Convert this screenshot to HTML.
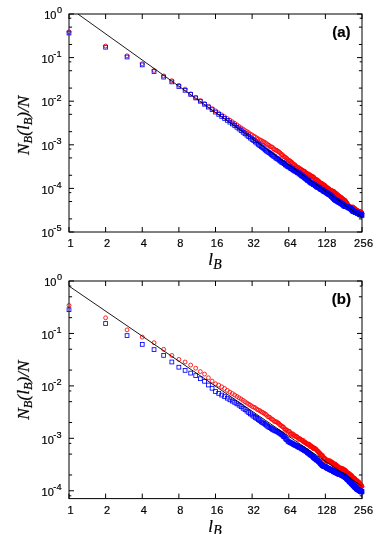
<!DOCTYPE html><html><head><meta charset="utf-8"><style>html,body{margin:0;padding:0;background:#fff}svg{display:block}.r{stroke:#f00}.b{stroke:#00f}text{font-family:"Liberation Sans",sans-serif;fill:#000;stroke:#000;stroke-width:0.2px}.s{font-family:"Liberation Serif",serif;font-style:italic}</style></head><body>
<svg width="382" height="534" viewBox="0 0 382 534">
<defs><filter id="g" x="0" y="0" width="100%" height="100%" filterUnits="userSpaceOnUse" color-interpolation-filters="sRGB"><feOffset dx="0" dy="0"/></filter></defs>
<rect width="382" height="534" fill="#fff"/>
<g filter="url(#g)">
<path d="M69.00 232.0v-5M69.00 14.0v5M105.62 232.0v-5M105.62 14.0v5M142.25 232.0v-5M142.25 14.0v5M178.88 232.0v-5M178.88 14.0v5M215.50 232.0v-5M215.50 14.0v5M252.12 232.0v-5M252.12 14.0v5M288.75 232.0v-5M288.75 14.0v5M325.38 232.0v-5M325.38 14.0v5M362.00 232.0v-5M362.00 14.0v5M69.0 14.00h5M362.0 14.00h-5M69.0 57.60h5M362.0 57.60h-5M69.0 101.20h5M362.0 101.20h-5M69.0 144.80h5M362.0 144.80h-5M69.0 188.40h5M362.0 188.40h-5M69.0 232.00h5M362.0 232.00h-5M69.0 44.48h3.1M362.0 44.48h-3.1M69.0 27.12h3.1M362.0 27.12h-3.1M69.0 88.08h3.1M362.0 88.08h-3.1M69.0 70.72h3.1M362.0 70.72h-3.1M69.0 131.68h3.1M362.0 131.68h-3.1M69.0 114.32h3.1M362.0 114.32h-3.1M69.0 175.28h3.1M362.0 175.28h-3.1M69.0 157.92h3.1M362.0 157.92h-3.1M69.0 218.88h3.1M362.0 218.88h-3.1M69.0 201.52h3.1M362.0 201.52h-3.1M69.0 18.23h2.3M362.0 18.23h-2.3M69.0 61.83h2.3M362.0 61.83h-2.3M69.0 105.43h2.3M362.0 105.43h-2.3M69.0 149.03h2.3M362.0 149.03h-2.3M69.0 192.63h2.3M362.0 192.63h-2.3" stroke="#000" stroke-width="1" fill="none"/>
<rect x="69.0" y="14.0" width="293.0" height="218.0" fill="none" stroke="#000" stroke-width="1.0"/>
<g fill="none" stroke-width="0.85">
<circle class="r" cx="69.00" cy="31.80" r="1.95"/><circle class="r" cx="105.62" cy="46.00" r="1.95"/><circle class="r" cx="127.05" cy="55.80" r="1.95"/><circle class="r" cx="142.25" cy="63.70" r="1.95"/><circle class="r" cx="154.04" cy="70.40" r="1.95"/><circle class="r" cx="163.67" cy="75.90" r="1.95"/><circle class="r" cx="171.82" cy="80.70" r="1.95"/><circle class="r" cx="178.88" cy="85.30" r="1.95"/><circle class="r" cx="185.10" cy="89.10" r="1.95"/><circle class="r" cx="190.67" cy="93.84" r="1.95"/><circle class="r" cx="195.70" cy="97.38" r="1.95"/><circle class="r" cx="200.30" cy="100.60" r="1.95"/><circle class="r" cx="204.53" cy="103.57" r="1.95"/><circle class="r" cx="208.44" cy="106.19" r="1.95"/><circle class="r" cx="212.09" cy="108.62" r="1.95"/><circle class="r" cx="215.50" cy="110.88" r="1.95"/><circle class="r" cx="218.70" cy="112.95" r="1.95"/><circle class="r" cx="221.72" cy="114.90" r="1.95"/><circle class="r" cx="224.58" cy="116.75" r="1.95"/><circle class="r" cx="227.29" cy="118.50" r="1.95"/><circle class="r" cx="229.87" cy="120.17" r="1.95"/><circle class="r" cx="232.33" cy="121.78" r="1.95"/><circle class="r" cx="234.68" cy="123.38" r="1.95"/><circle class="r" cx="236.92" cy="124.92" r="1.95"/><circle class="r" cx="239.08" cy="126.46" r="1.95"/><circle class="r" cx="241.15" cy="127.93" r="1.95"/><circle class="r" cx="243.15" cy="129.20" r="1.95"/><circle class="r" cx="245.07" cy="130.59" r="1.95"/><circle class="r" cx="246.92" cy="131.61" r="1.95"/><circle class="r" cx="248.71" cy="132.81" r="1.95"/><circle class="r" cx="250.45" cy="134.07" r="1.95"/><circle class="r" cx="252.12" cy="135.04" r="1.95"/><circle class="r" cx="253.75" cy="136.26" r="1.95"/><circle class="r" cx="255.33" cy="136.91" r="1.95"/><circle class="r" cx="256.86" cy="138.09" r="1.95"/><circle class="r" cx="258.35" cy="138.95" r="1.95"/><circle class="r" cx="259.80" cy="139.89" r="1.95"/><circle class="r" cx="261.21" cy="140.32" r="1.95"/><circle class="r" cx="262.58" cy="141.56" r="1.95"/><circle class="r" cx="263.92" cy="141.88" r="1.95"/><circle class="r" cx="265.22" cy="142.68" r="1.95"/><circle class="r" cx="266.49" cy="143.73" r="1.95"/><circle class="r" cx="267.74" cy="144.66" r="1.95"/><circle class="r" cx="268.95" cy="145.27" r="1.95"/><circle class="r" cx="270.14" cy="146.55" r="1.95"/><circle class="r" cx="271.30" cy="146.77" r="1.95"/><circle class="r" cx="272.44" cy="147.33" r="1.95"/><circle class="r" cx="273.55" cy="148.84" r="1.95"/><circle class="r" cx="274.64" cy="149.34" r="1.95"/><circle class="r" cx="275.71" cy="150.22" r="1.95"/><circle class="r" cx="276.75" cy="150.30" r="1.95"/><circle class="r" cx="277.78" cy="151.20" r="1.95"/><circle class="r" cx="278.79" cy="151.77" r="1.95"/><circle class="r" cx="279.77" cy="152.56" r="1.95"/><circle class="r" cx="280.74" cy="153.54" r="1.95"/><circle class="r" cx="281.69" cy="154.93" r="1.95"/><circle class="r" cx="282.63" cy="154.83" r="1.95"/><circle class="r" cx="283.55" cy="156.38" r="1.95"/><circle class="r" cx="284.45" cy="156.75" r="1.95"/><circle class="r" cx="285.34" cy="157.45" r="1.95"/><circle class="r" cx="286.21" cy="157.82" r="1.95"/><circle class="r" cx="287.07" cy="158.83" r="1.95"/><circle class="r" cx="287.92" cy="159.85" r="1.95"/><circle class="r" cx="288.75" cy="160.53" r="1.95"/><circle class="r" cx="289.57" cy="160.63" r="1.95"/><circle class="r" cx="290.38" cy="161.16" r="1.95"/><circle class="r" cx="291.17" cy="162.62" r="1.95"/><circle class="r" cx="291.95" cy="162.38" r="1.95"/><circle class="r" cx="292.72" cy="163.49" r="1.95"/><circle class="r" cx="293.48" cy="164.14" r="1.95"/><circle class="r" cx="294.23" cy="165.05" r="1.95"/><circle class="r" cx="294.97" cy="164.76" r="1.95"/><circle class="r" cx="295.70" cy="166.27" r="1.95"/><circle class="r" cx="296.42" cy="166.51" r="1.95"/><circle class="r" cx="297.13" cy="167.26" r="1.95"/><circle class="r" cx="297.83" cy="167.88" r="1.95"/><circle class="r" cx="298.52" cy="167.39" r="1.95"/><circle class="r" cx="299.20" cy="168.38" r="1.95"/><circle class="r" cx="299.88" cy="169.24" r="1.95"/><circle class="r" cx="300.54" cy="168.97" r="1.95"/><circle class="r" cx="301.20" cy="169.25" r="1.95"/><circle class="r" cx="301.85" cy="170.20" r="1.95"/><circle class="r" cx="302.49" cy="170.50" r="1.95"/><circle class="r" cx="303.12" cy="170.82" r="1.95"/><circle class="r" cx="303.74" cy="170.89" r="1.95"/><circle class="r" cx="304.36" cy="171.46" r="1.95"/><circle class="r" cx="304.97" cy="171.57" r="1.95"/><circle class="r" cx="305.58" cy="172.75" r="1.95"/><circle class="r" cx="306.17" cy="173.29" r="1.95"/><circle class="r" cx="306.76" cy="173.18" r="1.95"/><circle class="r" cx="307.35" cy="173.50" r="1.95"/><circle class="r" cx="307.93" cy="174.42" r="1.95"/><circle class="r" cx="308.50" cy="174.65" r="1.95"/><circle class="r" cx="309.06" cy="174.08" r="1.95"/><circle class="r" cx="309.62" cy="175.29" r="1.95"/><circle class="r" cx="310.17" cy="175.48" r="1.95"/><circle class="r" cx="310.72" cy="175.29" r="1.95"/><circle class="r" cx="311.26" cy="176.56" r="1.95"/><circle class="r" cx="311.80" cy="176.32" r="1.95"/><circle class="r" cx="312.33" cy="176.94" r="1.95"/><circle class="r" cx="312.86" cy="176.50" r="1.95"/><circle class="r" cx="313.38" cy="176.94" r="1.95"/><circle class="r" cx="313.89" cy="177.38" r="1.95"/><circle class="r" cx="314.40" cy="177.96" r="1.95"/><circle class="r" cx="314.91" cy="179.00" r="1.95"/><circle class="r" cx="315.41" cy="179.08" r="1.95"/><circle class="r" cx="315.91" cy="179.59" r="1.95"/><circle class="r" cx="316.40" cy="179.90" r="1.95"/><circle class="r" cx="316.88" cy="179.59" r="1.95"/><circle class="r" cx="317.37" cy="180.53" r="1.95"/><circle class="r" cx="317.85" cy="180.86" r="1.95"/><circle class="r" cx="318.32" cy="180.65" r="1.95"/><circle class="r" cx="318.79" cy="181.85" r="1.95"/><circle class="r" cx="319.25" cy="181.71" r="1.95"/><circle class="r" cx="319.72" cy="182.52" r="1.95"/><circle class="r" cx="320.17" cy="183.10" r="1.95"/><circle class="r" cx="320.63" cy="182.90" r="1.95"/><circle class="r" cx="321.08" cy="183.47" r="1.95"/><circle class="r" cx="321.52" cy="183.82" r="1.95"/><circle class="r" cx="321.96" cy="183.36" r="1.95"/><circle class="r" cx="322.40" cy="183.92" r="1.95"/><circle class="r" cx="322.84" cy="184.98" r="1.95"/><circle class="r" cx="323.27" cy="184.61" r="1.95"/><circle class="r" cx="323.70" cy="184.88" r="1.95"/><circle class="r" cx="324.12" cy="185.17" r="1.95"/><circle class="r" cx="324.54" cy="185.19" r="1.95"/><circle class="r" cx="324.96" cy="185.74" r="1.95"/><circle class="r" cx="325.38" cy="185.91" r="1.95"/><circle class="r" cx="325.79" cy="186.47" r="1.95"/><circle class="r" cx="326.19" cy="187.30" r="1.95"/><circle class="r" cx="326.60" cy="187.17" r="1.95"/><circle class="r" cx="327.00" cy="187.87" r="1.95"/><circle class="r" cx="327.40" cy="188.36" r="1.95"/><circle class="r" cx="327.80" cy="187.75" r="1.95"/><circle class="r" cx="328.19" cy="188.84" r="1.95"/><circle class="r" cx="328.58" cy="188.98" r="1.95"/><circle class="r" cx="328.97" cy="188.60" r="1.95"/><circle class="r" cx="329.35" cy="189.39" r="1.95"/><circle class="r" cx="329.73" cy="189.59" r="1.95"/><circle class="r" cx="330.11" cy="189.87" r="1.95"/><circle class="r" cx="330.49" cy="190.36" r="1.95"/><circle class="r" cx="330.86" cy="190.55" r="1.95"/><circle class="r" cx="331.23" cy="190.48" r="1.95"/><circle class="r" cx="331.60" cy="191.01" r="1.95"/><circle class="r" cx="331.96" cy="190.47" r="1.95"/><circle class="r" cx="332.33" cy="191.18" r="1.95"/><circle class="r" cx="332.69" cy="191.50" r="1.95"/><circle class="r" cx="333.05" cy="191.51" r="1.95"/><circle class="r" cx="333.40" cy="192.16" r="1.95"/><circle class="r" cx="333.76" cy="191.31" r="1.95"/><circle class="r" cx="334.11" cy="192.02" r="1.95"/><circle class="r" cx="334.46" cy="191.93" r="1.95"/><circle class="r" cx="334.80" cy="193.01" r="1.95"/><circle class="r" cx="335.15" cy="193.17" r="1.95"/><circle class="r" cx="335.49" cy="193.00" r="1.95"/><circle class="r" cx="335.83" cy="193.25" r="1.95"/><circle class="r" cx="336.17" cy="193.39" r="1.95"/><circle class="r" cx="336.50" cy="194.32" r="1.95"/><circle class="r" cx="336.83" cy="194.69" r="1.95"/><circle class="r" cx="337.17" cy="195.10" r="1.95"/><circle class="r" cx="337.49" cy="194.53" r="1.95"/><circle class="r" cx="337.82" cy="194.83" r="1.95"/><circle class="r" cx="338.15" cy="195.39" r="1.95"/><circle class="r" cx="338.47" cy="196.12" r="1.95"/><circle class="r" cx="338.79" cy="196.48" r="1.95"/><circle class="r" cx="339.11" cy="196.51" r="1.95"/><circle class="r" cx="339.43" cy="196.26" r="1.95"/><circle class="r" cx="339.74" cy="196.74" r="1.95"/><circle class="r" cx="340.06" cy="197.56" r="1.95"/><circle class="r" cx="340.37" cy="197.28" r="1.95"/><circle class="r" cx="340.68" cy="197.08" r="1.95"/><circle class="r" cx="340.99" cy="198.13" r="1.95"/><circle class="r" cx="341.29" cy="197.49" r="1.95"/><circle class="r" cx="341.60" cy="197.76" r="1.95"/><circle class="r" cx="341.90" cy="198.59" r="1.95"/><circle class="r" cx="342.20" cy="198.35" r="1.95"/><circle class="r" cx="342.50" cy="199.27" r="1.95"/><circle class="r" cx="342.80" cy="199.36" r="1.95"/><circle class="r" cx="343.09" cy="199.01" r="1.95"/><circle class="r" cx="343.39" cy="199.78" r="1.95"/><circle class="r" cx="343.68" cy="200.02" r="1.95"/><circle class="r" cx="343.97" cy="199.62" r="1.95"/><circle class="r" cx="344.26" cy="200.54" r="1.95"/><circle class="r" cx="344.55" cy="200.28" r="1.95"/><circle class="r" cx="344.84" cy="200.72" r="1.95"/><circle class="r" cx="345.12" cy="200.27" r="1.95"/><circle class="r" cx="345.41" cy="201.28" r="1.95"/><circle class="r" cx="345.69" cy="201.55" r="1.95"/><circle class="r" cx="345.97" cy="201.69" r="1.95"/><circle class="r" cx="346.25" cy="202.26" r="1.95"/><circle class="r" cx="346.52" cy="203.20" r="1.95"/><circle class="r" cx="346.80" cy="202.83" r="1.95"/><circle class="r" cx="347.07" cy="203.42" r="1.95"/><circle class="r" cx="347.35" cy="204.05" r="1.95"/><circle class="r" cx="347.62" cy="204.32" r="1.95"/><circle class="r" cx="347.89" cy="205.36" r="1.95"/><circle class="r" cx="348.16" cy="205.63" r="1.95"/><circle class="r" cx="348.43" cy="206.50" r="1.95"/><circle class="r" cx="348.69" cy="206.35" r="1.95"/><circle class="r" cx="348.96" cy="206.49" r="1.95"/><circle class="r" cx="349.22" cy="206.45" r="1.95"/><circle class="r" cx="349.48" cy="206.49" r="1.95"/><circle class="r" cx="349.74" cy="207.45" r="1.95"/><circle class="r" cx="350.00" cy="207.53" r="1.95"/><circle class="r" cx="350.26" cy="207.36" r="1.95"/><circle class="r" cx="350.52" cy="206.96" r="1.95"/><circle class="r" cx="350.77" cy="206.89" r="1.95"/><circle class="r" cx="351.03" cy="207.76" r="1.95"/><circle class="r" cx="351.28" cy="207.64" r="1.95"/><circle class="r" cx="351.53" cy="207.14" r="1.95"/><circle class="r" cx="351.79" cy="207.82" r="1.95"/><circle class="r" cx="352.04" cy="207.71" r="1.95"/><circle class="r" cx="352.28" cy="207.94" r="1.95"/><circle class="r" cx="352.53" cy="207.28" r="1.95"/><circle class="r" cx="352.78" cy="207.24" r="1.95"/><circle class="r" cx="353.02" cy="206.97" r="1.95"/><circle class="r" cx="353.27" cy="208.14" r="1.95"/><circle class="r" cx="353.51" cy="208.33" r="1.95"/><circle class="r" cx="353.75" cy="207.89" r="1.95"/><circle class="r" cx="353.99" cy="208.53" r="1.95"/><circle class="r" cx="354.23" cy="208.48" r="1.95"/><circle class="r" cx="354.47" cy="208.88" r="1.95"/><circle class="r" cx="354.71" cy="208.42" r="1.95"/><circle class="r" cx="354.94" cy="208.71" r="1.95"/><circle class="r" cx="355.18" cy="208.82" r="1.95"/><circle class="r" cx="355.41" cy="209.54" r="1.95"/><circle class="r" cx="355.65" cy="209.61" r="1.95"/><circle class="r" cx="355.88" cy="209.85" r="1.95"/><circle class="r" cx="356.11" cy="209.92" r="1.95"/><circle class="r" cx="356.34" cy="209.71" r="1.95"/><circle class="r" cx="356.57" cy="210.29" r="1.95"/><circle class="r" cx="356.80" cy="210.39" r="1.95"/><circle class="r" cx="357.03" cy="211.15" r="1.95"/><circle class="r" cx="357.25" cy="211.15" r="1.95"/><circle class="r" cx="357.48" cy="210.46" r="1.95"/><circle class="r" cx="357.70" cy="211.61" r="1.95"/><circle class="r" cx="357.93" cy="210.98" r="1.95"/><circle class="r" cx="358.15" cy="211.50" r="1.95"/><circle class="r" cx="358.37" cy="211.05" r="1.95"/><circle class="r" cx="358.59" cy="211.75" r="1.95"/><circle class="r" cx="358.81" cy="211.88" r="1.95"/><circle class="r" cx="359.03" cy="212.11" r="1.95"/><circle class="r" cx="359.25" cy="211.72" r="1.95"/><circle class="r" cx="359.46" cy="211.53" r="1.95"/><circle class="r" cx="359.68" cy="211.79" r="1.95"/><circle class="r" cx="359.89" cy="211.94" r="1.95"/><circle class="r" cx="360.11" cy="212.04" r="1.95"/><circle class="r" cx="360.32" cy="211.70" r="1.95"/><circle class="r" cx="360.54" cy="212.27" r="1.95"/><circle class="r" cx="360.75" cy="211.89" r="1.95"/><circle class="r" cx="360.96" cy="212.06" r="1.95"/><circle class="r" cx="361.17" cy="212.22" r="1.95"/><circle class="r" cx="361.38" cy="212.26" r="1.95"/><circle class="r" cx="361.59" cy="212.45" r="1.95"/><circle class="r" cx="361.79" cy="212.88" r="1.95"/><circle class="r" cx="362.00" cy="213.47" r="1.95"/>
<rect class="b" x="67.10" y="31.10" width="3.8" height="3.8"/><rect class="b" x="103.72" y="45.30" width="3.8" height="3.8"/><rect class="b" x="125.15" y="55.10" width="3.8" height="3.8"/><rect class="b" x="140.35" y="63.00" width="3.8" height="3.8"/><rect class="b" x="152.14" y="69.70" width="3.8" height="3.8"/><rect class="b" x="161.77" y="75.20" width="3.8" height="3.8"/><rect class="b" x="169.92" y="80.00" width="3.8" height="3.8"/><rect class="b" x="176.97" y="84.60" width="3.8" height="3.8"/><rect class="b" x="183.20" y="88.40" width="3.8" height="3.8"/><rect class="b" x="188.77" y="92.45" width="3.8" height="3.8"/><rect class="b" x="193.80" y="96.05" width="3.8" height="3.8"/><rect class="b" x="198.40" y="99.34" width="3.8" height="3.8"/><rect class="b" x="202.63" y="102.36" width="3.8" height="3.8"/><rect class="b" x="206.54" y="105.17" width="3.8" height="3.8"/><rect class="b" x="210.19" y="107.77" width="3.8" height="3.8"/><rect class="b" x="213.60" y="110.20" width="3.8" height="3.8"/><rect class="b" x="216.80" y="112.45" width="3.8" height="3.8"/><rect class="b" x="219.82" y="114.56" width="3.8" height="3.8"/><rect class="b" x="222.68" y="116.56" width="3.8" height="3.8"/><rect class="b" x="225.39" y="118.46" width="3.8" height="3.8"/><rect class="b" x="227.97" y="120.26" width="3.8" height="3.8"/><rect class="b" x="230.43" y="121.99" width="3.8" height="3.8"/><rect class="b" x="232.78" y="123.61" width="3.8" height="3.8"/><rect class="b" x="235.02" y="125.37" width="3.8" height="3.8"/><rect class="b" x="237.18" y="127.09" width="3.8" height="3.8"/><rect class="b" x="239.25" y="128.73" width="3.8" height="3.8"/><rect class="b" x="241.25" y="130.38" width="3.8" height="3.8"/><rect class="b" x="243.17" y="131.85" width="3.8" height="3.8"/><rect class="b" x="245.02" y="133.29" width="3.8" height="3.8"/><rect class="b" x="246.81" y="134.78" width="3.8" height="3.8"/><rect class="b" x="248.55" y="136.18" width="3.8" height="3.8"/><rect class="b" x="250.22" y="137.55" width="3.8" height="3.8"/><rect class="b" x="251.85" y="138.68" width="3.8" height="3.8"/><rect class="b" x="253.43" y="140.02" width="3.8" height="3.8"/><rect class="b" x="254.96" y="141.26" width="3.8" height="3.8"/><rect class="b" x="256.45" y="142.45" width="3.8" height="3.8"/><rect class="b" x="257.90" y="143.71" width="3.8" height="3.8"/><rect class="b" x="259.31" y="144.76" width="3.8" height="3.8"/><rect class="b" x="260.68" y="145.72" width="3.8" height="3.8"/><rect class="b" x="262.02" y="146.84" width="3.8" height="3.8"/><rect class="b" x="263.32" y="147.98" width="3.8" height="3.8"/><rect class="b" x="264.59" y="148.98" width="3.8" height="3.8"/><rect class="b" x="265.84" y="149.93" width="3.8" height="3.8"/><rect class="b" x="267.05" y="150.65" width="3.8" height="3.8"/><rect class="b" x="268.24" y="151.42" width="3.8" height="3.8"/><rect class="b" x="269.40" y="152.44" width="3.8" height="3.8"/><rect class="b" x="270.54" y="153.26" width="3.8" height="3.8"/><rect class="b" x="271.65" y="154.23" width="3.8" height="3.8"/><rect class="b" x="272.74" y="154.73" width="3.8" height="3.8"/><rect class="b" x="273.81" y="155.92" width="3.8" height="3.8"/><rect class="b" x="274.85" y="156.59" width="3.8" height="3.8"/><rect class="b" x="275.88" y="157.06" width="3.8" height="3.8"/><rect class="b" x="276.89" y="157.77" width="3.8" height="3.8"/><rect class="b" x="277.87" y="158.90" width="3.8" height="3.8"/><rect class="b" x="278.84" y="159.28" width="3.8" height="3.8"/><rect class="b" x="279.79" y="160.36" width="3.8" height="3.8"/><rect class="b" x="280.73" y="160.47" width="3.8" height="3.8"/><rect class="b" x="281.65" y="161.15" width="3.8" height="3.8"/><rect class="b" x="282.55" y="161.78" width="3.8" height="3.8"/><rect class="b" x="283.44" y="163.00" width="3.8" height="3.8"/><rect class="b" x="284.31" y="163.18" width="3.8" height="3.8"/><rect class="b" x="285.17" y="164.03" width="3.8" height="3.8"/><rect class="b" x="286.02" y="164.72" width="3.8" height="3.8"/><rect class="b" x="286.85" y="165.09" width="3.8" height="3.8"/><rect class="b" x="287.67" y="165.13" width="3.8" height="3.8"/><rect class="b" x="288.48" y="166.12" width="3.8" height="3.8"/><rect class="b" x="289.27" y="166.84" width="3.8" height="3.8"/><rect class="b" x="290.05" y="166.82" width="3.8" height="3.8"/><rect class="b" x="290.82" y="167.79" width="3.8" height="3.8"/><rect class="b" x="291.58" y="168.21" width="3.8" height="3.8"/><rect class="b" x="292.33" y="168.69" width="3.8" height="3.8"/><rect class="b" x="293.07" y="169.18" width="3.8" height="3.8"/><rect class="b" x="293.80" y="169.38" width="3.8" height="3.8"/><rect class="b" x="294.52" y="169.69" width="3.8" height="3.8"/><rect class="b" x="295.23" y="170.59" width="3.8" height="3.8"/><rect class="b" x="295.93" y="170.94" width="3.8" height="3.8"/><rect class="b" x="296.62" y="170.94" width="3.8" height="3.8"/><rect class="b" x="297.30" y="172.03" width="3.8" height="3.8"/><rect class="b" x="297.98" y="171.96" width="3.8" height="3.8"/><rect class="b" x="298.64" y="172.73" width="3.8" height="3.8"/><rect class="b" x="299.30" y="173.47" width="3.8" height="3.8"/><rect class="b" x="299.95" y="173.98" width="3.8" height="3.8"/><rect class="b" x="300.59" y="174.22" width="3.8" height="3.8"/><rect class="b" x="301.22" y="174.47" width="3.8" height="3.8"/><rect class="b" x="301.84" y="175.17" width="3.8" height="3.8"/><rect class="b" x="302.46" y="175.68" width="3.8" height="3.8"/><rect class="b" x="303.07" y="176.19" width="3.8" height="3.8"/><rect class="b" x="303.68" y="176.63" width="3.8" height="3.8"/><rect class="b" x="304.27" y="177.05" width="3.8" height="3.8"/><rect class="b" x="304.86" y="177.69" width="3.8" height="3.8"/><rect class="b" x="305.45" y="178.32" width="3.8" height="3.8"/><rect class="b" x="306.03" y="178.30" width="3.8" height="3.8"/><rect class="b" x="306.60" y="178.66" width="3.8" height="3.8"/><rect class="b" x="307.16" y="179.18" width="3.8" height="3.8"/><rect class="b" x="307.72" y="180.08" width="3.8" height="3.8"/><rect class="b" x="308.27" y="179.96" width="3.8" height="3.8"/><rect class="b" x="308.82" y="180.89" width="3.8" height="3.8"/><rect class="b" x="309.36" y="181.17" width="3.8" height="3.8"/><rect class="b" x="309.90" y="181.18" width="3.8" height="3.8"/><rect class="b" x="310.43" y="181.31" width="3.8" height="3.8"/><rect class="b" x="310.96" y="181.88" width="3.8" height="3.8"/><rect class="b" x="311.48" y="182.68" width="3.8" height="3.8"/><rect class="b" x="311.99" y="182.52" width="3.8" height="3.8"/><rect class="b" x="312.50" y="182.77" width="3.8" height="3.8"/><rect class="b" x="313.01" y="183.19" width="3.8" height="3.8"/><rect class="b" x="313.51" y="183.84" width="3.8" height="3.8"/><rect class="b" x="314.01" y="183.97" width="3.8" height="3.8"/><rect class="b" x="314.50" y="184.56" width="3.8" height="3.8"/><rect class="b" x="314.98" y="184.93" width="3.8" height="3.8"/><rect class="b" x="315.47" y="185.30" width="3.8" height="3.8"/><rect class="b" x="315.95" y="185.13" width="3.8" height="3.8"/><rect class="b" x="316.42" y="185.42" width="3.8" height="3.8"/><rect class="b" x="316.89" y="185.80" width="3.8" height="3.8"/><rect class="b" x="317.35" y="185.92" width="3.8" height="3.8"/><rect class="b" x="317.82" y="186.60" width="3.8" height="3.8"/><rect class="b" x="318.27" y="186.58" width="3.8" height="3.8"/><rect class="b" x="318.73" y="187.38" width="3.8" height="3.8"/><rect class="b" x="319.18" y="187.76" width="3.8" height="3.8"/><rect class="b" x="319.62" y="187.80" width="3.8" height="3.8"/><rect class="b" x="320.06" y="187.72" width="3.8" height="3.8"/><rect class="b" x="320.50" y="188.02" width="3.8" height="3.8"/><rect class="b" x="320.94" y="188.64" width="3.8" height="3.8"/><rect class="b" x="321.37" y="188.77" width="3.8" height="3.8"/><rect class="b" x="321.80" y="189.38" width="3.8" height="3.8"/><rect class="b" x="322.22" y="189.65" width="3.8" height="3.8"/><rect class="b" x="322.64" y="189.51" width="3.8" height="3.8"/><rect class="b" x="323.06" y="189.85" width="3.8" height="3.8"/><rect class="b" x="323.48" y="190.04" width="3.8" height="3.8"/><rect class="b" x="323.89" y="190.18" width="3.8" height="3.8"/><rect class="b" x="324.29" y="190.73" width="3.8" height="3.8"/><rect class="b" x="324.70" y="190.75" width="3.8" height="3.8"/><rect class="b" x="325.10" y="191.23" width="3.8" height="3.8"/><rect class="b" x="325.50" y="191.47" width="3.8" height="3.8"/><rect class="b" x="325.90" y="191.64" width="3.8" height="3.8"/><rect class="b" x="326.29" y="192.10" width="3.8" height="3.8"/><rect class="b" x="326.68" y="192.25" width="3.8" height="3.8"/><rect class="b" x="327.07" y="192.26" width="3.8" height="3.8"/><rect class="b" x="327.45" y="192.68" width="3.8" height="3.8"/><rect class="b" x="327.83" y="192.49" width="3.8" height="3.8"/><rect class="b" x="328.21" y="193.14" width="3.8" height="3.8"/><rect class="b" x="328.59" y="193.31" width="3.8" height="3.8"/><rect class="b" x="328.96" y="193.65" width="3.8" height="3.8"/><rect class="b" x="329.33" y="194.14" width="3.8" height="3.8"/><rect class="b" x="329.70" y="194.67" width="3.8" height="3.8"/><rect class="b" x="330.06" y="194.78" width="3.8" height="3.8"/><rect class="b" x="330.43" y="194.98" width="3.8" height="3.8"/><rect class="b" x="330.79" y="195.81" width="3.8" height="3.8"/><rect class="b" x="331.15" y="196.01" width="3.8" height="3.8"/><rect class="b" x="331.50" y="196.18" width="3.8" height="3.8"/><rect class="b" x="331.86" y="196.71" width="3.8" height="3.8"/><rect class="b" x="332.21" y="196.93" width="3.8" height="3.8"/><rect class="b" x="332.56" y="197.49" width="3.8" height="3.8"/><rect class="b" x="332.90" y="197.52" width="3.8" height="3.8"/><rect class="b" x="333.25" y="198.20" width="3.8" height="3.8"/><rect class="b" x="333.59" y="197.92" width="3.8" height="3.8"/><rect class="b" x="333.93" y="198.30" width="3.8" height="3.8"/><rect class="b" x="334.27" y="198.86" width="3.8" height="3.8"/><rect class="b" x="334.60" y="198.55" width="3.8" height="3.8"/><rect class="b" x="334.93" y="198.85" width="3.8" height="3.8"/><rect class="b" x="335.27" y="199.24" width="3.8" height="3.8"/><rect class="b" x="335.59" y="199.05" width="3.8" height="3.8"/><rect class="b" x="335.92" y="199.85" width="3.8" height="3.8"/><rect class="b" x="336.25" y="199.51" width="3.8" height="3.8"/><rect class="b" x="336.57" y="200.12" width="3.8" height="3.8"/><rect class="b" x="336.89" y="200.12" width="3.8" height="3.8"/><rect class="b" x="337.21" y="200.23" width="3.8" height="3.8"/><rect class="b" x="337.53" y="200.12" width="3.8" height="3.8"/><rect class="b" x="337.84" y="200.50" width="3.8" height="3.8"/><rect class="b" x="338.16" y="200.63" width="3.8" height="3.8"/><rect class="b" x="338.47" y="200.95" width="3.8" height="3.8"/><rect class="b" x="338.78" y="201.54" width="3.8" height="3.8"/><rect class="b" x="339.09" y="201.83" width="3.8" height="3.8"/><rect class="b" x="339.39" y="201.42" width="3.8" height="3.8"/><rect class="b" x="339.70" y="201.77" width="3.8" height="3.8"/><rect class="b" x="340.00" y="202.10" width="3.8" height="3.8"/><rect class="b" x="340.30" y="202.27" width="3.8" height="3.8"/><rect class="b" x="340.60" y="202.34" width="3.8" height="3.8"/><rect class="b" x="340.90" y="202.63" width="3.8" height="3.8"/><rect class="b" x="341.19" y="203.01" width="3.8" height="3.8"/><rect class="b" x="341.49" y="202.93" width="3.8" height="3.8"/><rect class="b" x="341.78" y="203.46" width="3.8" height="3.8"/><rect class="b" x="342.07" y="203.99" width="3.8" height="3.8"/><rect class="b" x="342.36" y="203.65" width="3.8" height="3.8"/><rect class="b" x="342.65" y="204.08" width="3.8" height="3.8"/><rect class="b" x="342.94" y="204.26" width="3.8" height="3.8"/><rect class="b" x="343.22" y="204.40" width="3.8" height="3.8"/><rect class="b" x="343.51" y="204.18" width="3.8" height="3.8"/><rect class="b" x="343.79" y="204.58" width="3.8" height="3.8"/><rect class="b" x="344.07" y="204.62" width="3.8" height="3.8"/><rect class="b" x="344.35" y="204.34" width="3.8" height="3.8"/><rect class="b" x="344.62" y="204.91" width="3.8" height="3.8"/><rect class="b" x="344.90" y="204.75" width="3.8" height="3.8"/><rect class="b" x="345.17" y="204.71" width="3.8" height="3.8"/><rect class="b" x="345.45" y="204.99" width="3.8" height="3.8"/><rect class="b" x="345.72" y="204.95" width="3.8" height="3.8"/><rect class="b" x="345.99" y="205.18" width="3.8" height="3.8"/><rect class="b" x="346.26" y="205.30" width="3.8" height="3.8"/><rect class="b" x="346.53" y="205.44" width="3.8" height="3.8"/><rect class="b" x="346.79" y="206.06" width="3.8" height="3.8"/><rect class="b" x="347.06" y="205.80" width="3.8" height="3.8"/><rect class="b" x="347.32" y="205.89" width="3.8" height="3.8"/><rect class="b" x="347.58" y="205.77" width="3.8" height="3.8"/><rect class="b" x="347.84" y="206.46" width="3.8" height="3.8"/><rect class="b" x="348.10" y="206.19" width="3.8" height="3.8"/><rect class="b" x="348.36" y="206.23" width="3.8" height="3.8"/><rect class="b" x="348.62" y="206.68" width="3.8" height="3.8"/><rect class="b" x="348.87" y="206.94" width="3.8" height="3.8"/><rect class="b" x="349.13" y="207.08" width="3.8" height="3.8"/><rect class="b" x="349.38" y="207.47" width="3.8" height="3.8"/><rect class="b" x="349.63" y="208.05" width="3.8" height="3.8"/><rect class="b" x="349.89" y="207.67" width="3.8" height="3.8"/><rect class="b" x="350.14" y="207.91" width="3.8" height="3.8"/><rect class="b" x="350.38" y="208.30" width="3.8" height="3.8"/><rect class="b" x="350.63" y="208.55" width="3.8" height="3.8"/><rect class="b" x="350.88" y="209.09" width="3.8" height="3.8"/><rect class="b" x="351.12" y="209.34" width="3.8" height="3.8"/><rect class="b" x="351.37" y="208.94" width="3.8" height="3.8"/><rect class="b" x="351.61" y="209.70" width="3.8" height="3.8"/><rect class="b" x="351.85" y="209.49" width="3.8" height="3.8"/><rect class="b" x="352.09" y="209.77" width="3.8" height="3.8"/><rect class="b" x="352.33" y="209.59" width="3.8" height="3.8"/><rect class="b" x="352.57" y="209.53" width="3.8" height="3.8"/><rect class="b" x="352.81" y="209.62" width="3.8" height="3.8"/><rect class="b" x="353.04" y="210.37" width="3.8" height="3.8"/><rect class="b" x="353.28" y="209.85" width="3.8" height="3.8"/><rect class="b" x="353.51" y="210.21" width="3.8" height="3.8"/><rect class="b" x="353.75" y="210.48" width="3.8" height="3.8"/><rect class="b" x="353.98" y="210.20" width="3.8" height="3.8"/><rect class="b" x="354.21" y="210.48" width="3.8" height="3.8"/><rect class="b" x="354.44" y="210.49" width="3.8" height="3.8"/><rect class="b" x="354.67" y="210.66" width="3.8" height="3.8"/><rect class="b" x="354.90" y="210.69" width="3.8" height="3.8"/><rect class="b" x="355.13" y="210.71" width="3.8" height="3.8"/><rect class="b" x="355.35" y="211.38" width="3.8" height="3.8"/><rect class="b" x="355.58" y="210.97" width="3.8" height="3.8"/><rect class="b" x="355.80" y="211.20" width="3.8" height="3.8"/><rect class="b" x="356.03" y="211.59" width="3.8" height="3.8"/><rect class="b" x="356.25" y="211.58" width="3.8" height="3.8"/><rect class="b" x="356.47" y="211.40" width="3.8" height="3.8"/><rect class="b" x="356.69" y="211.51" width="3.8" height="3.8"/><rect class="b" x="356.91" y="211.61" width="3.8" height="3.8"/><rect class="b" x="357.13" y="211.97" width="3.8" height="3.8"/><rect class="b" x="357.35" y="212.08" width="3.8" height="3.8"/><rect class="b" x="357.56" y="212.29" width="3.8" height="3.8"/><rect class="b" x="357.78" y="212.58" width="3.8" height="3.8"/><rect class="b" x="357.99" y="212.31" width="3.8" height="3.8"/><rect class="b" x="358.21" y="212.26" width="3.8" height="3.8"/><rect class="b" x="358.42" y="212.86" width="3.8" height="3.8"/><rect class="b" x="358.64" y="212.95" width="3.8" height="3.8"/><rect class="b" x="358.85" y="212.82" width="3.8" height="3.8"/><rect class="b" x="359.06" y="212.98" width="3.8" height="3.8"/><rect class="b" x="359.27" y="212.84" width="3.8" height="3.8"/><rect class="b" x="359.48" y="213.09" width="3.8" height="3.8"/><rect class="b" x="359.69" y="212.94" width="3.8" height="3.8"/><rect class="b" x="359.89" y="212.99" width="3.8" height="3.8"/><rect class="b" x="360.10" y="213.49" width="3.8" height="3.8"/>
</g>
<path d="M77.9 14.0L362.0 217.19" stroke="#000" stroke-width="0.9" fill="none"/>
<text x="70.70" y="247.20" font-size="11" letter-spacing="0.3" text-anchor="middle">1</text>
<text x="107.33" y="247.20" font-size="11" letter-spacing="0.3" text-anchor="middle">2</text>
<text x="143.95" y="247.20" font-size="11" letter-spacing="0.3" text-anchor="middle">4</text>
<text x="180.57" y="247.20" font-size="11" letter-spacing="0.3" text-anchor="middle">8</text>
<text x="217.20" y="247.20" font-size="11" letter-spacing="0.3" text-anchor="middle">16</text>
<text x="253.82" y="247.20" font-size="11" letter-spacing="0.3" text-anchor="middle">32</text>
<text x="290.45" y="247.20" font-size="11" letter-spacing="0.3" text-anchor="middle">64</text>
<text x="327.07" y="247.20" font-size="11" letter-spacing="0.3" text-anchor="middle">128</text>
<text x="363.70" y="247.20" font-size="11" letter-spacing="0.3" text-anchor="middle">256</text>
<text x="62.2" y="13.30" font-size="9.2" text-anchor="end">0</text>
<text x="56.4" y="19.20" font-size="11" text-anchor="end">10</text>
<text x="61.5" y="56.90" font-size="9.2" text-anchor="end">-1</text>
<text x="53.8" y="62.80" font-size="11" text-anchor="end">10</text>
<text x="61.5" y="100.50" font-size="9.2" text-anchor="end">-2</text>
<text x="53.8" y="106.40" font-size="11" text-anchor="end">10</text>
<text x="61.5" y="144.10" font-size="9.2" text-anchor="end">-3</text>
<text x="53.8" y="150.00" font-size="11" text-anchor="end">10</text>
<text x="61.5" y="187.70" font-size="9.2" text-anchor="end">-4</text>
<text x="53.8" y="193.60" font-size="11" text-anchor="end">10</text>
<text x="61.5" y="231.30" font-size="9.2" text-anchor="end">-5</text>
<text x="53.8" y="237.20" font-size="11" text-anchor="end">10</text>
<text x="341.4" y="36.5" font-size="15" font-weight="bold" text-anchor="middle">(a)</text>
<text class="s" x="208.3" y="265.30" font-size="17" stroke="#111" stroke-width="0.3">l<tspan dx="0.2" dy="3.4" font-size="13.8">B</tspan></text>
<text class="s" transform="translate(28.5,154.90) rotate(-90)" font-size="17.2" stroke="#111" stroke-width="0.3">N<tspan dy="3.6" font-size="12.5">B</tspan><tspan dy="-3.6">(l</tspan><tspan dy="3.6" font-size="12.5">B</tspan><tspan dy="-3.6">)/N</tspan></text>
<path d="M69.00 498.6v-5M69.00 281.0v5M105.62 498.6v-5M105.62 281.0v5M142.25 498.6v-5M142.25 281.0v5M178.88 498.6v-5M178.88 281.0v5M215.50 498.6v-5M215.50 281.0v5M252.12 498.6v-5M252.12 281.0v5M288.75 498.6v-5M288.75 281.0v5M325.38 498.6v-5M325.38 281.0v5M362.00 498.6v-5M362.00 281.0v5M69.0 281.00h5M362.0 281.00h-5M69.0 333.44h5M362.0 333.44h-5M69.0 385.88h5M362.0 385.88h-5M69.0 438.32h5M362.0 438.32h-5M69.0 490.76h5M362.0 490.76h-5M69.0 317.65h3.1M362.0 317.65h-3.1M69.0 296.79h3.1M362.0 296.79h-3.1M69.0 370.09h3.1M362.0 370.09h-3.1M69.0 349.23h3.1M362.0 349.23h-3.1M69.0 422.53h3.1M362.0 422.53h-3.1M69.0 401.67h3.1M362.0 401.67h-3.1M69.0 474.97h3.1M362.0 474.97h-3.1M69.0 454.11h3.1M362.0 454.11h-3.1M69.0 286.08h2.3M362.0 286.08h-2.3M69.0 338.52h2.3M362.0 338.52h-2.3M69.0 390.96h2.3M362.0 390.96h-2.3M69.0 443.40h2.3M362.0 443.40h-2.3M69.0 495.84h2.3M362.0 495.84h-2.3" stroke="#000" stroke-width="1" fill="none"/>
<rect x="69.0" y="281.0" width="293.0" height="217.60000000000002" fill="none" stroke="#000" stroke-width="1.0"/>
<g fill="none" stroke-width="0.85">
<circle class="r" cx="69.00" cy="305.40" r="1.95"/><circle class="r" cx="105.62" cy="317.80" r="1.95"/><circle class="r" cx="127.05" cy="329.90" r="1.95"/><circle class="r" cx="142.25" cy="337.10" r="1.95"/><circle class="r" cx="154.04" cy="342.70" r="1.95"/><circle class="r" cx="163.67" cy="349.30" r="1.95"/><circle class="r" cx="171.82" cy="355.40" r="1.95"/><circle class="r" cx="178.88" cy="359.40" r="1.95"/><circle class="r" cx="185.10" cy="362.00" r="1.95"/><circle class="r" cx="190.67" cy="365.10" r="1.95"/><circle class="r" cx="195.70" cy="368.20" r="1.95"/><circle class="r" cx="200.30" cy="371.60" r="1.95"/><circle class="r" cx="204.53" cy="374.10" r="1.95"/><circle class="r" cx="208.44" cy="377.80" r="1.95"/><circle class="r" cx="212.09" cy="381.10" r="1.95"/><circle class="r" cx="215.50" cy="383.80" r="1.95"/><circle class="r" cx="218.70" cy="385.10" r="1.95"/><circle class="r" cx="221.72" cy="386.80" r="1.95"/><circle class="r" cx="224.58" cy="388.50" r="1.95"/><circle class="r" cx="227.29" cy="390.40" r="1.95"/><circle class="r" cx="229.87" cy="392.06" r="1.95"/><circle class="r" cx="232.33" cy="393.55" r="1.95"/><circle class="r" cx="234.68" cy="395.01" r="1.95"/><circle class="r" cx="236.92" cy="396.41" r="1.95"/><circle class="r" cx="239.08" cy="397.79" r="1.95"/><circle class="r" cx="241.15" cy="399.02" r="1.95"/><circle class="r" cx="243.15" cy="400.37" r="1.95"/><circle class="r" cx="245.07" cy="401.75" r="1.95"/><circle class="r" cx="246.92" cy="403.07" r="1.95"/><circle class="r" cx="248.71" cy="404.18" r="1.95"/><circle class="r" cx="250.45" cy="405.19" r="1.95"/><circle class="r" cx="252.12" cy="406.44" r="1.95"/><circle class="r" cx="253.75" cy="407.18" r="1.95"/><circle class="r" cx="255.33" cy="407.81" r="1.95"/><circle class="r" cx="256.86" cy="409.30" r="1.95"/><circle class="r" cx="258.35" cy="409.94" r="1.95"/><circle class="r" cx="259.80" cy="410.68" r="1.95"/><circle class="r" cx="261.21" cy="411.67" r="1.95"/><circle class="r" cx="262.58" cy="412.43" r="1.95"/><circle class="r" cx="263.92" cy="413.17" r="1.95"/><circle class="r" cx="265.22" cy="414.06" r="1.95"/><circle class="r" cx="266.49" cy="414.91" r="1.95"/><circle class="r" cx="267.74" cy="416.63" r="1.95"/><circle class="r" cx="268.95" cy="416.98" r="1.95"/><circle class="r" cx="270.14" cy="417.60" r="1.95"/><circle class="r" cx="271.30" cy="418.95" r="1.95"/><circle class="r" cx="272.44" cy="419.43" r="1.95"/><circle class="r" cx="273.55" cy="420.39" r="1.95"/><circle class="r" cx="274.64" cy="421.69" r="1.95"/><circle class="r" cx="275.71" cy="421.68" r="1.95"/><circle class="r" cx="276.75" cy="421.88" r="1.95"/><circle class="r" cx="277.78" cy="423.00" r="1.95"/><circle class="r" cx="278.79" cy="423.29" r="1.95"/><circle class="r" cx="279.77" cy="424.81" r="1.95"/><circle class="r" cx="280.74" cy="425.19" r="1.95"/><circle class="r" cx="281.69" cy="426.21" r="1.95"/><circle class="r" cx="282.63" cy="426.81" r="1.95"/><circle class="r" cx="283.55" cy="427.00" r="1.95"/><circle class="r" cx="284.45" cy="428.79" r="1.95"/><circle class="r" cx="285.34" cy="430.22" r="1.95"/><circle class="r" cx="286.21" cy="429.46" r="1.95"/><circle class="r" cx="287.07" cy="430.37" r="1.95"/><circle class="r" cx="287.92" cy="431.99" r="1.95"/><circle class="r" cx="288.75" cy="431.31" r="1.95"/><circle class="r" cx="289.57" cy="431.47" r="1.95"/><circle class="r" cx="290.38" cy="433.88" r="1.95"/><circle class="r" cx="291.17" cy="434.42" r="1.95"/><circle class="r" cx="291.95" cy="433.44" r="1.95"/><circle class="r" cx="292.72" cy="435.25" r="1.95"/><circle class="r" cx="293.48" cy="434.26" r="1.95"/><circle class="r" cx="294.23" cy="436.10" r="1.95"/><circle class="r" cx="294.97" cy="435.77" r="1.95"/><circle class="r" cx="295.70" cy="436.41" r="1.95"/><circle class="r" cx="296.42" cy="436.33" r="1.95"/><circle class="r" cx="297.13" cy="436.81" r="1.95"/><circle class="r" cx="297.83" cy="437.65" r="1.95"/><circle class="r" cx="298.52" cy="439.32" r="1.95"/><circle class="r" cx="299.20" cy="438.67" r="1.95"/><circle class="r" cx="299.88" cy="438.73" r="1.95"/><circle class="r" cx="300.54" cy="439.16" r="1.95"/><circle class="r" cx="301.20" cy="439.76" r="1.95"/><circle class="r" cx="301.85" cy="440.29" r="1.95"/><circle class="r" cx="302.49" cy="440.90" r="1.95"/><circle class="r" cx="303.12" cy="440.25" r="1.95"/><circle class="r" cx="303.74" cy="442.09" r="1.95"/><circle class="r" cx="304.36" cy="442.13" r="1.95"/><circle class="r" cx="304.97" cy="441.90" r="1.95"/><circle class="r" cx="305.58" cy="442.90" r="1.95"/><circle class="r" cx="306.17" cy="443.39" r="1.95"/><circle class="r" cx="306.76" cy="443.47" r="1.95"/><circle class="r" cx="307.35" cy="444.36" r="1.95"/><circle class="r" cx="307.93" cy="444.48" r="1.95"/><circle class="r" cx="308.50" cy="443.99" r="1.95"/><circle class="r" cx="309.06" cy="444.28" r="1.95"/><circle class="r" cx="309.62" cy="444.83" r="1.95"/><circle class="r" cx="310.17" cy="446.66" r="1.95"/><circle class="r" cx="310.72" cy="446.07" r="1.95"/><circle class="r" cx="311.26" cy="445.96" r="1.95"/><circle class="r" cx="311.80" cy="446.40" r="1.95"/><circle class="r" cx="312.33" cy="447.48" r="1.95"/><circle class="r" cx="312.86" cy="447.98" r="1.95"/><circle class="r" cx="313.38" cy="448.66" r="1.95"/><circle class="r" cx="313.89" cy="447.51" r="1.95"/><circle class="r" cx="314.40" cy="448.63" r="1.95"/><circle class="r" cx="314.91" cy="448.43" r="1.95"/><circle class="r" cx="315.41" cy="448.75" r="1.95"/><circle class="r" cx="315.91" cy="449.18" r="1.95"/><circle class="r" cx="316.40" cy="449.66" r="1.95"/><circle class="r" cx="316.88" cy="450.85" r="1.95"/><circle class="r" cx="317.37" cy="450.93" r="1.95"/><circle class="r" cx="317.85" cy="451.05" r="1.95"/><circle class="r" cx="318.32" cy="451.90" r="1.95"/><circle class="r" cx="318.79" cy="452.71" r="1.95"/><circle class="r" cx="319.25" cy="452.64" r="1.95"/><circle class="r" cx="319.72" cy="452.95" r="1.95"/><circle class="r" cx="320.17" cy="454.64" r="1.95"/><circle class="r" cx="320.63" cy="454.21" r="1.95"/><circle class="r" cx="321.08" cy="454.60" r="1.95"/><circle class="r" cx="321.52" cy="455.24" r="1.95"/><circle class="r" cx="321.96" cy="455.08" r="1.95"/><circle class="r" cx="322.40" cy="455.61" r="1.95"/><circle class="r" cx="322.84" cy="456.50" r="1.95"/><circle class="r" cx="323.27" cy="456.74" r="1.95"/><circle class="r" cx="323.70" cy="458.86" r="1.95"/><circle class="r" cx="324.12" cy="458.02" r="1.95"/><circle class="r" cx="324.54" cy="458.84" r="1.95"/><circle class="r" cx="324.96" cy="458.37" r="1.95"/><circle class="r" cx="325.38" cy="458.92" r="1.95"/><circle class="r" cx="325.79" cy="460.48" r="1.95"/><circle class="r" cx="326.19" cy="460.96" r="1.95"/><circle class="r" cx="326.60" cy="461.61" r="1.95"/><circle class="r" cx="327.00" cy="459.85" r="1.95"/><circle class="r" cx="327.40" cy="461.34" r="1.95"/><circle class="r" cx="327.80" cy="461.00" r="1.95"/><circle class="r" cx="328.19" cy="461.27" r="1.95"/><circle class="r" cx="328.58" cy="460.68" r="1.95"/><circle class="r" cx="328.97" cy="460.54" r="1.95"/><circle class="r" cx="329.35" cy="461.70" r="1.95"/><circle class="r" cx="329.73" cy="462.15" r="1.95"/><circle class="r" cx="330.11" cy="461.98" r="1.95"/><circle class="r" cx="330.49" cy="460.92" r="1.95"/><circle class="r" cx="330.86" cy="462.36" r="1.95"/><circle class="r" cx="331.23" cy="462.06" r="1.95"/><circle class="r" cx="331.60" cy="462.67" r="1.95"/><circle class="r" cx="331.96" cy="463.15" r="1.95"/><circle class="r" cx="332.33" cy="462.06" r="1.95"/><circle class="r" cx="332.69" cy="463.56" r="1.95"/><circle class="r" cx="333.05" cy="463.42" r="1.95"/><circle class="r" cx="333.40" cy="464.71" r="1.95"/><circle class="r" cx="333.76" cy="464.67" r="1.95"/><circle class="r" cx="334.11" cy="463.72" r="1.95"/><circle class="r" cx="334.46" cy="463.85" r="1.95"/><circle class="r" cx="334.80" cy="465.47" r="1.95"/><circle class="r" cx="335.15" cy="464.55" r="1.95"/><circle class="r" cx="335.49" cy="464.36" r="1.95"/><circle class="r" cx="335.83" cy="464.89" r="1.95"/><circle class="r" cx="336.17" cy="464.85" r="1.95"/><circle class="r" cx="336.50" cy="466.91" r="1.95"/><circle class="r" cx="336.83" cy="466.01" r="1.95"/><circle class="r" cx="337.17" cy="466.19" r="1.95"/><circle class="r" cx="337.49" cy="465.88" r="1.95"/><circle class="r" cx="337.82" cy="466.38" r="1.95"/><circle class="r" cx="338.15" cy="466.84" r="1.95"/><circle class="r" cx="338.47" cy="467.55" r="1.95"/><circle class="r" cx="338.79" cy="467.93" r="1.95"/><circle class="r" cx="339.11" cy="468.20" r="1.95"/><circle class="r" cx="339.43" cy="468.75" r="1.95"/><circle class="r" cx="339.74" cy="467.67" r="1.95"/><circle class="r" cx="340.06" cy="468.54" r="1.95"/><circle class="r" cx="340.37" cy="467.71" r="1.95"/><circle class="r" cx="340.68" cy="468.52" r="1.95"/><circle class="r" cx="340.99" cy="468.58" r="1.95"/><circle class="r" cx="341.29" cy="468.51" r="1.95"/><circle class="r" cx="341.60" cy="469.11" r="1.95"/><circle class="r" cx="341.90" cy="468.95" r="1.95"/><circle class="r" cx="342.20" cy="468.39" r="1.95"/><circle class="r" cx="342.50" cy="469.42" r="1.95"/><circle class="r" cx="342.80" cy="469.10" r="1.95"/><circle class="r" cx="343.09" cy="470.61" r="1.95"/><circle class="r" cx="343.39" cy="468.91" r="1.95"/><circle class="r" cx="343.68" cy="470.17" r="1.95"/><circle class="r" cx="343.97" cy="470.78" r="1.95"/><circle class="r" cx="344.26" cy="469.51" r="1.95"/><circle class="r" cx="344.55" cy="471.41" r="1.95"/><circle class="r" cx="344.84" cy="470.68" r="1.95"/><circle class="r" cx="345.12" cy="470.46" r="1.95"/><circle class="r" cx="345.41" cy="470.48" r="1.95"/><circle class="r" cx="345.69" cy="470.68" r="1.95"/><circle class="r" cx="345.97" cy="471.46" r="1.95"/><circle class="r" cx="346.25" cy="471.51" r="1.95"/><circle class="r" cx="346.52" cy="472.90" r="1.95"/><circle class="r" cx="346.80" cy="473.28" r="1.95"/><circle class="r" cx="347.07" cy="472.58" r="1.95"/><circle class="r" cx="347.35" cy="473.14" r="1.95"/><circle class="r" cx="347.62" cy="472.70" r="1.95"/><circle class="r" cx="347.89" cy="473.84" r="1.95"/><circle class="r" cx="348.16" cy="474.40" r="1.95"/><circle class="r" cx="348.43" cy="473.13" r="1.95"/><circle class="r" cx="348.69" cy="473.89" r="1.95"/><circle class="r" cx="348.96" cy="474.46" r="1.95"/><circle class="r" cx="349.22" cy="473.79" r="1.95"/><circle class="r" cx="349.48" cy="473.73" r="1.95"/><circle class="r" cx="349.74" cy="475.31" r="1.95"/><circle class="r" cx="350.00" cy="474.45" r="1.95"/><circle class="r" cx="350.26" cy="475.64" r="1.95"/><circle class="r" cx="350.52" cy="474.88" r="1.95"/><circle class="r" cx="350.77" cy="476.69" r="1.95"/><circle class="r" cx="351.03" cy="475.72" r="1.95"/><circle class="r" cx="351.28" cy="475.33" r="1.95"/><circle class="r" cx="351.53" cy="475.85" r="1.95"/><circle class="r" cx="351.79" cy="476.51" r="1.95"/><circle class="r" cx="352.04" cy="475.99" r="1.95"/><circle class="r" cx="352.28" cy="477.64" r="1.95"/><circle class="r" cx="352.53" cy="478.28" r="1.95"/><circle class="r" cx="352.78" cy="477.22" r="1.95"/><circle class="r" cx="353.02" cy="478.64" r="1.95"/><circle class="r" cx="353.27" cy="477.50" r="1.95"/><circle class="r" cx="353.51" cy="478.02" r="1.95"/><circle class="r" cx="353.75" cy="479.32" r="1.95"/><circle class="r" cx="353.99" cy="479.33" r="1.95"/><circle class="r" cx="354.23" cy="478.54" r="1.95"/><circle class="r" cx="354.47" cy="478.51" r="1.95"/><circle class="r" cx="354.71" cy="478.39" r="1.95"/><circle class="r" cx="354.94" cy="480.30" r="1.95"/><circle class="r" cx="355.18" cy="478.94" r="1.95"/><circle class="r" cx="355.41" cy="479.42" r="1.95"/><circle class="r" cx="355.65" cy="480.66" r="1.95"/><circle class="r" cx="355.88" cy="481.06" r="1.95"/><circle class="r" cx="356.11" cy="481.06" r="1.95"/><circle class="r" cx="356.34" cy="480.09" r="1.95"/><circle class="r" cx="356.57" cy="480.78" r="1.95"/><circle class="r" cx="356.80" cy="481.81" r="1.95"/><circle class="r" cx="357.03" cy="481.35" r="1.95"/><circle class="r" cx="357.25" cy="480.68" r="1.95"/><circle class="r" cx="357.48" cy="482.75" r="1.95"/><circle class="r" cx="357.70" cy="482.74" r="1.95"/><circle class="r" cx="357.93" cy="483.10" r="1.95"/><circle class="r" cx="358.15" cy="481.84" r="1.95"/><circle class="r" cx="358.37" cy="482.11" r="1.95"/><circle class="r" cx="358.59" cy="481.81" r="1.95"/><circle class="r" cx="358.81" cy="482.61" r="1.95"/><circle class="r" cx="359.03" cy="482.30" r="1.95"/><circle class="r" cx="359.25" cy="483.65" r="1.95"/><circle class="r" cx="359.46" cy="483.38" r="1.95"/><circle class="r" cx="359.68" cy="483.37" r="1.95"/><circle class="r" cx="359.89" cy="484.67" r="1.95"/><circle class="r" cx="360.11" cy="484.58" r="1.95"/><circle class="r" cx="360.32" cy="484.16" r="1.95"/><circle class="r" cx="360.54" cy="484.42" r="1.95"/><circle class="r" cx="360.75" cy="484.97" r="1.95"/><circle class="r" cx="360.96" cy="484.62" r="1.95"/><circle class="r" cx="361.17" cy="485.10" r="1.95"/><circle class="r" cx="361.38" cy="485.85" r="1.95"/><circle class="r" cx="361.59" cy="486.31" r="1.95"/><circle class="r" cx="361.79" cy="486.46" r="1.95"/><circle class="r" cx="362.00" cy="486.44" r="1.95"/>
<rect class="b" x="67.10" y="307.80" width="3.8" height="3.8"/><rect class="b" x="103.72" y="321.60" width="3.8" height="3.8"/><rect class="b" x="125.15" y="333.70" width="3.8" height="3.8"/><rect class="b" x="140.35" y="342.50" width="3.8" height="3.8"/><rect class="b" x="152.14" y="347.70" width="3.8" height="3.8"/><rect class="b" x="161.77" y="353.50" width="3.8" height="3.8"/><rect class="b" x="169.92" y="360.10" width="3.8" height="3.8"/><rect class="b" x="176.97" y="365.30" width="3.8" height="3.8"/><rect class="b" x="183.20" y="368.50" width="3.8" height="3.8"/><rect class="b" x="188.77" y="371.20" width="3.8" height="3.8"/><rect class="b" x="193.80" y="373.70" width="3.8" height="3.8"/><rect class="b" x="198.40" y="376.80" width="3.8" height="3.8"/><rect class="b" x="202.63" y="379.40" width="3.8" height="3.8"/><rect class="b" x="206.54" y="383.10" width="3.8" height="3.8"/><rect class="b" x="210.19" y="386.40" width="3.8" height="3.8"/><rect class="b" x="213.60" y="389.60" width="3.8" height="3.8"/><rect class="b" x="216.80" y="391.50" width="3.8" height="3.8"/><rect class="b" x="219.82" y="393.20" width="3.8" height="3.8"/><rect class="b" x="222.68" y="394.70" width="3.8" height="3.8"/><rect class="b" x="225.39" y="396.30" width="3.8" height="3.8"/><rect class="b" x="227.97" y="397.93" width="3.8" height="3.8"/><rect class="b" x="230.43" y="399.22" width="3.8" height="3.8"/><rect class="b" x="232.78" y="400.48" width="3.8" height="3.8"/><rect class="b" x="235.02" y="401.94" width="3.8" height="3.8"/><rect class="b" x="237.18" y="403.29" width="3.8" height="3.8"/><rect class="b" x="239.25" y="404.79" width="3.8" height="3.8"/><rect class="b" x="241.25" y="406.38" width="3.8" height="3.8"/><rect class="b" x="243.17" y="407.77" width="3.8" height="3.8"/><rect class="b" x="245.02" y="409.26" width="3.8" height="3.8"/><rect class="b" x="246.81" y="410.61" width="3.8" height="3.8"/><rect class="b" x="248.55" y="411.99" width="3.8" height="3.8"/><rect class="b" x="250.22" y="413.14" width="3.8" height="3.8"/><rect class="b" x="251.85" y="414.43" width="3.8" height="3.8"/><rect class="b" x="253.43" y="415.55" width="3.8" height="3.8"/><rect class="b" x="254.96" y="416.55" width="3.8" height="3.8"/><rect class="b" x="256.45" y="417.67" width="3.8" height="3.8"/><rect class="b" x="257.90" y="418.78" width="3.8" height="3.8"/><rect class="b" x="259.31" y="419.91" width="3.8" height="3.8"/><rect class="b" x="260.68" y="420.75" width="3.8" height="3.8"/><rect class="b" x="262.02" y="421.46" width="3.8" height="3.8"/><rect class="b" x="263.32" y="422.41" width="3.8" height="3.8"/><rect class="b" x="264.59" y="423.38" width="3.8" height="3.8"/><rect class="b" x="265.84" y="424.43" width="3.8" height="3.8"/><rect class="b" x="267.05" y="425.29" width="3.8" height="3.8"/><rect class="b" x="268.24" y="425.80" width="3.8" height="3.8"/><rect class="b" x="269.40" y="426.57" width="3.8" height="3.8"/><rect class="b" x="270.54" y="427.36" width="3.8" height="3.8"/><rect class="b" x="271.65" y="428.01" width="3.8" height="3.8"/><rect class="b" x="272.74" y="428.71" width="3.8" height="3.8"/><rect class="b" x="273.81" y="429.08" width="3.8" height="3.8"/><rect class="b" x="274.85" y="429.45" width="3.8" height="3.8"/><rect class="b" x="275.88" y="430.00" width="3.8" height="3.8"/><rect class="b" x="276.89" y="430.84" width="3.8" height="3.8"/><rect class="b" x="277.87" y="431.35" width="3.8" height="3.8"/><rect class="b" x="278.84" y="431.96" width="3.8" height="3.8"/><rect class="b" x="279.79" y="432.85" width="3.8" height="3.8"/><rect class="b" x="280.73" y="433.31" width="3.8" height="3.8"/><rect class="b" x="281.65" y="434.65" width="3.8" height="3.8"/><rect class="b" x="282.55" y="434.91" width="3.8" height="3.8"/><rect class="b" x="283.44" y="436.38" width="3.8" height="3.8"/><rect class="b" x="284.31" y="437.37" width="3.8" height="3.8"/><rect class="b" x="285.17" y="437.85" width="3.8" height="3.8"/><rect class="b" x="286.02" y="439.22" width="3.8" height="3.8"/><rect class="b" x="286.85" y="439.87" width="3.8" height="3.8"/><rect class="b" x="287.67" y="440.22" width="3.8" height="3.8"/><rect class="b" x="288.48" y="440.75" width="3.8" height="3.8"/><rect class="b" x="289.27" y="441.07" width="3.8" height="3.8"/><rect class="b" x="290.05" y="441.32" width="3.8" height="3.8"/><rect class="b" x="290.82" y="441.91" width="3.8" height="3.8"/><rect class="b" x="291.58" y="442.42" width="3.8" height="3.8"/><rect class="b" x="292.33" y="442.64" width="3.8" height="3.8"/><rect class="b" x="293.07" y="443.25" width="3.8" height="3.8"/><rect class="b" x="293.80" y="443.72" width="3.8" height="3.8"/><rect class="b" x="294.52" y="443.47" width="3.8" height="3.8"/><rect class="b" x="295.23" y="444.41" width="3.8" height="3.8"/><rect class="b" x="295.93" y="444.58" width="3.8" height="3.8"/><rect class="b" x="296.62" y="445.05" width="3.8" height="3.8"/><rect class="b" x="297.30" y="445.61" width="3.8" height="3.8"/><rect class="b" x="297.98" y="445.53" width="3.8" height="3.8"/><rect class="b" x="298.64" y="446.00" width="3.8" height="3.8"/><rect class="b" x="299.30" y="446.40" width="3.8" height="3.8"/><rect class="b" x="299.95" y="447.14" width="3.8" height="3.8"/><rect class="b" x="300.59" y="446.78" width="3.8" height="3.8"/><rect class="b" x="301.22" y="447.76" width="3.8" height="3.8"/><rect class="b" x="301.84" y="447.92" width="3.8" height="3.8"/><rect class="b" x="302.46" y="448.45" width="3.8" height="3.8"/><rect class="b" x="303.07" y="448.39" width="3.8" height="3.8"/><rect class="b" x="303.68" y="449.11" width="3.8" height="3.8"/><rect class="b" x="304.27" y="449.29" width="3.8" height="3.8"/><rect class="b" x="304.86" y="449.79" width="3.8" height="3.8"/><rect class="b" x="305.45" y="450.53" width="3.8" height="3.8"/><rect class="b" x="306.03" y="451.06" width="3.8" height="3.8"/><rect class="b" x="306.60" y="451.12" width="3.8" height="3.8"/><rect class="b" x="307.16" y="451.76" width="3.8" height="3.8"/><rect class="b" x="307.72" y="452.25" width="3.8" height="3.8"/><rect class="b" x="308.27" y="452.90" width="3.8" height="3.8"/><rect class="b" x="308.82" y="452.95" width="3.8" height="3.8"/><rect class="b" x="309.36" y="453.35" width="3.8" height="3.8"/><rect class="b" x="309.90" y="453.69" width="3.8" height="3.8"/><rect class="b" x="310.43" y="454.22" width="3.8" height="3.8"/><rect class="b" x="310.96" y="454.70" width="3.8" height="3.8"/><rect class="b" x="311.48" y="455.49" width="3.8" height="3.8"/><rect class="b" x="311.99" y="455.76" width="3.8" height="3.8"/><rect class="b" x="312.50" y="456.27" width="3.8" height="3.8"/><rect class="b" x="313.01" y="456.69" width="3.8" height="3.8"/><rect class="b" x="313.51" y="456.41" width="3.8" height="3.8"/><rect class="b" x="314.01" y="457.57" width="3.8" height="3.8"/><rect class="b" x="314.50" y="457.96" width="3.8" height="3.8"/><rect class="b" x="314.98" y="458.01" width="3.8" height="3.8"/><rect class="b" x="315.47" y="458.29" width="3.8" height="3.8"/><rect class="b" x="315.95" y="458.77" width="3.8" height="3.8"/><rect class="b" x="316.42" y="459.33" width="3.8" height="3.8"/><rect class="b" x="316.89" y="459.67" width="3.8" height="3.8"/><rect class="b" x="317.35" y="459.97" width="3.8" height="3.8"/><rect class="b" x="317.82" y="460.78" width="3.8" height="3.8"/><rect class="b" x="318.27" y="461.17" width="3.8" height="3.8"/><rect class="b" x="318.73" y="461.66" width="3.8" height="3.8"/><rect class="b" x="319.18" y="462.34" width="3.8" height="3.8"/><rect class="b" x="319.62" y="462.37" width="3.8" height="3.8"/><rect class="b" x="320.06" y="463.10" width="3.8" height="3.8"/><rect class="b" x="320.50" y="463.59" width="3.8" height="3.8"/><rect class="b" x="320.94" y="463.52" width="3.8" height="3.8"/><rect class="b" x="321.37" y="464.09" width="3.8" height="3.8"/><rect class="b" x="321.80" y="464.37" width="3.8" height="3.8"/><rect class="b" x="322.22" y="464.40" width="3.8" height="3.8"/><rect class="b" x="322.64" y="464.69" width="3.8" height="3.8"/><rect class="b" x="323.06" y="464.68" width="3.8" height="3.8"/><rect class="b" x="323.48" y="464.66" width="3.8" height="3.8"/><rect class="b" x="323.89" y="465.24" width="3.8" height="3.8"/><rect class="b" x="324.29" y="465.71" width="3.8" height="3.8"/><rect class="b" x="324.70" y="465.34" width="3.8" height="3.8"/><rect class="b" x="325.10" y="466.11" width="3.8" height="3.8"/><rect class="b" x="325.50" y="466.30" width="3.8" height="3.8"/><rect class="b" x="325.90" y="466.53" width="3.8" height="3.8"/><rect class="b" x="326.29" y="466.78" width="3.8" height="3.8"/><rect class="b" x="326.68" y="466.30" width="3.8" height="3.8"/><rect class="b" x="327.07" y="467.15" width="3.8" height="3.8"/><rect class="b" x="327.45" y="467.23" width="3.8" height="3.8"/><rect class="b" x="327.83" y="467.48" width="3.8" height="3.8"/><rect class="b" x="328.21" y="467.14" width="3.8" height="3.8"/><rect class="b" x="328.59" y="467.50" width="3.8" height="3.8"/><rect class="b" x="328.96" y="468.26" width="3.8" height="3.8"/><rect class="b" x="329.33" y="468.22" width="3.8" height="3.8"/><rect class="b" x="329.70" y="467.93" width="3.8" height="3.8"/><rect class="b" x="330.06" y="468.31" width="3.8" height="3.8"/><rect class="b" x="330.43" y="468.47" width="3.8" height="3.8"/><rect class="b" x="330.79" y="468.68" width="3.8" height="3.8"/><rect class="b" x="331.15" y="468.73" width="3.8" height="3.8"/><rect class="b" x="331.50" y="469.58" width="3.8" height="3.8"/><rect class="b" x="331.86" y="469.79" width="3.8" height="3.8"/><rect class="b" x="332.21" y="469.96" width="3.8" height="3.8"/><rect class="b" x="332.56" y="469.80" width="3.8" height="3.8"/><rect class="b" x="332.90" y="469.98" width="3.8" height="3.8"/><rect class="b" x="333.25" y="470.47" width="3.8" height="3.8"/><rect class="b" x="333.59" y="470.32" width="3.8" height="3.8"/><rect class="b" x="333.93" y="470.39" width="3.8" height="3.8"/><rect class="b" x="334.27" y="470.89" width="3.8" height="3.8"/><rect class="b" x="334.60" y="471.03" width="3.8" height="3.8"/><rect class="b" x="334.93" y="470.93" width="3.8" height="3.8"/><rect class="b" x="335.27" y="471.10" width="3.8" height="3.8"/><rect class="b" x="335.59" y="471.58" width="3.8" height="3.8"/><rect class="b" x="335.92" y="471.27" width="3.8" height="3.8"/><rect class="b" x="336.25" y="471.97" width="3.8" height="3.8"/><rect class="b" x="336.57" y="472.08" width="3.8" height="3.8"/><rect class="b" x="336.89" y="471.54" width="3.8" height="3.8"/><rect class="b" x="337.21" y="472.16" width="3.8" height="3.8"/><rect class="b" x="337.53" y="471.89" width="3.8" height="3.8"/><rect class="b" x="337.84" y="472.52" width="3.8" height="3.8"/><rect class="b" x="338.16" y="472.31" width="3.8" height="3.8"/><rect class="b" x="338.47" y="472.34" width="3.8" height="3.8"/><rect class="b" x="338.78" y="472.53" width="3.8" height="3.8"/><rect class="b" x="339.09" y="472.60" width="3.8" height="3.8"/><rect class="b" x="339.39" y="472.70" width="3.8" height="3.8"/><rect class="b" x="339.70" y="473.48" width="3.8" height="3.8"/><rect class="b" x="340.00" y="473.32" width="3.8" height="3.8"/><rect class="b" x="340.30" y="473.26" width="3.8" height="3.8"/><rect class="b" x="340.60" y="473.68" width="3.8" height="3.8"/><rect class="b" x="340.90" y="473.51" width="3.8" height="3.8"/><rect class="b" x="341.19" y="474.12" width="3.8" height="3.8"/><rect class="b" x="341.49" y="474.14" width="3.8" height="3.8"/><rect class="b" x="341.78" y="473.71" width="3.8" height="3.8"/><rect class="b" x="342.07" y="474.53" width="3.8" height="3.8"/><rect class="b" x="342.36" y="474.12" width="3.8" height="3.8"/><rect class="b" x="342.65" y="474.84" width="3.8" height="3.8"/><rect class="b" x="342.94" y="474.96" width="3.8" height="3.8"/><rect class="b" x="343.22" y="475.51" width="3.8" height="3.8"/><rect class="b" x="343.51" y="475.23" width="3.8" height="3.8"/><rect class="b" x="343.79" y="475.34" width="3.8" height="3.8"/><rect class="b" x="344.07" y="475.71" width="3.8" height="3.8"/><rect class="b" x="344.35" y="476.16" width="3.8" height="3.8"/><rect class="b" x="344.62" y="476.42" width="3.8" height="3.8"/><rect class="b" x="344.90" y="476.85" width="3.8" height="3.8"/><rect class="b" x="345.17" y="477.07" width="3.8" height="3.8"/><rect class="b" x="345.45" y="477.52" width="3.8" height="3.8"/><rect class="b" x="345.72" y="477.36" width="3.8" height="3.8"/><rect class="b" x="345.99" y="477.86" width="3.8" height="3.8"/><rect class="b" x="346.26" y="477.76" width="3.8" height="3.8"/><rect class="b" x="346.53" y="478.36" width="3.8" height="3.8"/><rect class="b" x="346.79" y="478.14" width="3.8" height="3.8"/><rect class="b" x="347.06" y="479.02" width="3.8" height="3.8"/><rect class="b" x="347.32" y="479.33" width="3.8" height="3.8"/><rect class="b" x="347.58" y="479.16" width="3.8" height="3.8"/><rect class="b" x="347.84" y="479.93" width="3.8" height="3.8"/><rect class="b" x="348.10" y="480.17" width="3.8" height="3.8"/><rect class="b" x="348.36" y="480.01" width="3.8" height="3.8"/><rect class="b" x="348.62" y="479.99" width="3.8" height="3.8"/><rect class="b" x="348.87" y="480.37" width="3.8" height="3.8"/><rect class="b" x="349.13" y="481.21" width="3.8" height="3.8"/><rect class="b" x="349.38" y="481.21" width="3.8" height="3.8"/><rect class="b" x="349.63" y="481.40" width="3.8" height="3.8"/><rect class="b" x="349.89" y="482.04" width="3.8" height="3.8"/><rect class="b" x="350.14" y="481.71" width="3.8" height="3.8"/><rect class="b" x="350.38" y="482.66" width="3.8" height="3.8"/><rect class="b" x="350.63" y="482.71" width="3.8" height="3.8"/><rect class="b" x="350.88" y="482.71" width="3.8" height="3.8"/><rect class="b" x="351.12" y="483.26" width="3.8" height="3.8"/><rect class="b" x="351.37" y="483.41" width="3.8" height="3.8"/><rect class="b" x="351.61" y="483.46" width="3.8" height="3.8"/><rect class="b" x="351.85" y="483.63" width="3.8" height="3.8"/><rect class="b" x="352.09" y="484.33" width="3.8" height="3.8"/><rect class="b" x="352.33" y="484.23" width="3.8" height="3.8"/><rect class="b" x="352.57" y="484.76" width="3.8" height="3.8"/><rect class="b" x="352.81" y="484.83" width="3.8" height="3.8"/><rect class="b" x="353.04" y="485.40" width="3.8" height="3.8"/><rect class="b" x="353.28" y="485.23" width="3.8" height="3.8"/><rect class="b" x="353.51" y="485.38" width="3.8" height="3.8"/><rect class="b" x="353.75" y="485.94" width="3.8" height="3.8"/><rect class="b" x="353.98" y="485.72" width="3.8" height="3.8"/><rect class="b" x="354.21" y="485.86" width="3.8" height="3.8"/><rect class="b" x="354.44" y="486.62" width="3.8" height="3.8"/><rect class="b" x="354.67" y="486.93" width="3.8" height="3.8"/><rect class="b" x="354.90" y="486.87" width="3.8" height="3.8"/><rect class="b" x="355.13" y="487.21" width="3.8" height="3.8"/><rect class="b" x="355.35" y="487.01" width="3.8" height="3.8"/><rect class="b" x="355.58" y="487.45" width="3.8" height="3.8"/><rect class="b" x="355.80" y="487.55" width="3.8" height="3.8"/><rect class="b" x="356.03" y="487.49" width="3.8" height="3.8"/><rect class="b" x="356.25" y="487.84" width="3.8" height="3.8"/><rect class="b" x="356.47" y="488.14" width="3.8" height="3.8"/><rect class="b" x="356.69" y="488.04" width="3.8" height="3.8"/><rect class="b" x="356.91" y="488.05" width="3.8" height="3.8"/><rect class="b" x="357.13" y="488.08" width="3.8" height="3.8"/><rect class="b" x="357.35" y="488.18" width="3.8" height="3.8"/><rect class="b" x="357.56" y="488.45" width="3.8" height="3.8"/><rect class="b" x="357.78" y="488.78" width="3.8" height="3.8"/><rect class="b" x="357.99" y="489.24" width="3.8" height="3.8"/><rect class="b" x="358.21" y="488.71" width="3.8" height="3.8"/><rect class="b" x="358.42" y="489.31" width="3.8" height="3.8"/><rect class="b" x="358.64" y="488.90" width="3.8" height="3.8"/><rect class="b" x="358.85" y="489.60" width="3.8" height="3.8"/><rect class="b" x="359.06" y="489.38" width="3.8" height="3.8"/><rect class="b" x="359.27" y="489.83" width="3.8" height="3.8"/><rect class="b" x="359.48" y="489.97" width="3.8" height="3.8"/><rect class="b" x="359.69" y="490.08" width="3.8" height="3.8"/><rect class="b" x="359.89" y="489.72" width="3.8" height="3.8"/><rect class="b" x="360.10" y="489.64" width="3.8" height="3.8"/>
</g>
<path d="M69.0 286.1L362.0 486.31" stroke="#000" stroke-width="0.9" fill="none"/>
<text x="70.70" y="513.80" font-size="11" letter-spacing="0.3" text-anchor="middle">1</text>
<text x="107.33" y="513.80" font-size="11" letter-spacing="0.3" text-anchor="middle">2</text>
<text x="143.95" y="513.80" font-size="11" letter-spacing="0.3" text-anchor="middle">4</text>
<text x="180.57" y="513.80" font-size="11" letter-spacing="0.3" text-anchor="middle">8</text>
<text x="217.20" y="513.80" font-size="11" letter-spacing="0.3" text-anchor="middle">16</text>
<text x="253.82" y="513.80" font-size="11" letter-spacing="0.3" text-anchor="middle">32</text>
<text x="290.45" y="513.80" font-size="11" letter-spacing="0.3" text-anchor="middle">64</text>
<text x="327.07" y="513.80" font-size="11" letter-spacing="0.3" text-anchor="middle">128</text>
<text x="363.70" y="513.80" font-size="11" letter-spacing="0.3" text-anchor="middle">256</text>
<text x="62.2" y="280.30" font-size="9.2" text-anchor="end">0</text>
<text x="56.4" y="286.20" font-size="11" text-anchor="end">10</text>
<text x="61.5" y="332.74" font-size="9.2" text-anchor="end">-1</text>
<text x="53.8" y="338.64" font-size="11" text-anchor="end">10</text>
<text x="61.5" y="385.18" font-size="9.2" text-anchor="end">-2</text>
<text x="53.8" y="391.08" font-size="11" text-anchor="end">10</text>
<text x="61.5" y="437.62" font-size="9.2" text-anchor="end">-3</text>
<text x="53.8" y="443.52" font-size="11" text-anchor="end">10</text>
<text x="61.5" y="490.06" font-size="9.2" text-anchor="end">-4</text>
<text x="53.8" y="495.96" font-size="11" text-anchor="end">10</text>
<text x="341.4" y="303.5" font-size="15" font-weight="bold" text-anchor="middle">(b)</text>
<text class="s" x="208.3" y="531.90" font-size="17" stroke="#111" stroke-width="0.3">l<tspan dx="0.2" dy="3.4" font-size="13.8">B</tspan></text>
<text class="s" transform="translate(28.5,419.70) rotate(-90)" font-size="17.2" stroke="#111" stroke-width="0.3">N<tspan dy="3.6" font-size="12.5">B</tspan><tspan dy="-3.6">(l</tspan><tspan dy="3.6" font-size="12.5">B</tspan><tspan dy="-3.6">)/N</tspan></text>
</g></svg></body></html>
